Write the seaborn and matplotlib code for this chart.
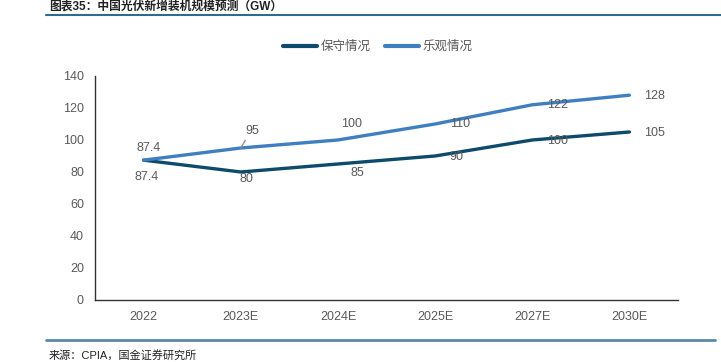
import matplotlib
matplotlib.use('Agg')
import matplotlib.pyplot as plt
import pandas as pd
import seaborn as sns

# dados
anos = ['2022', '2023E', '2024E', '2025E', '2027E', '2030E']
conservador = [87.4, 80, 85, 90, 100, 105]
otimista = [87.4, 95, 100, 110, 122, 128]
series = ['保守情况', '乐观情况']
cores = ['#0d4a6b', '#3f7fc0']

df = pd.DataFrame({
    'ano': anos * 2,
    'valor': conservador + otimista,
    'cenario': [series[0]] * len(anos) + [series[1]] * len(anos),
})
df['pos'] = list(range(len(anos))) * 2

sns.set_theme(style='white')
plt.rcParams['font.family'] = ['Liberation Sans', 'Noto Sans CJK SC', 'DejaVu Sans']

fig = plt.figure(figsize=(7.21, 3.62), dpi=100)
ax = fig.add_axes([0.1318, 0.1713, 0.8086, 0.6188])

sns.lineplot(data=df, x='pos', y='valor', hue='cenario', hue_order=series,
             palette=cores, linewidth=2.4, ax=ax, legend=False)

cinza = '#595959'
# offsets dos rótulos (pixels)
off_cons = [(3, -17), (6, -7), (19, -9), (21, -1), (25, -1), (25, -1)]
off_otim = [(5, 12), (12, 17), (14, 16), (25, 0), (25, 0), (25, -1)]
for i, v in enumerate(conservador):
    ax.annotate(f'{v:g}', (i, v), xytext=off_cons[i], textcoords='offset pixels',
                ha='center', va='center', fontsize=9, color=cinza)
for i, v in enumerate(otimista):
    props = None
    if i == 1:
        props = dict(arrowstyle='-', color='#8c8c8c', lw=0.9, shrinkA=0, shrinkB=0,
                     relpos=(0.1, 0.0))
    ax.annotate(f'{v:g}', (i, v), xytext=off_otim[i], textcoords='offset pixels',
                ha='center', va='center', fontsize=9, color=cinza, arrowprops=props)

ax.set_xlim(-0.5, len(anos) - 0.5)
ax.set_ylim(0, 140)
ax.set_yticks(range(0, 141, 20))
ax.set_xticks([i - 0.5 for i in range(len(anos) + 1)], minor=False)
ax.set_xticklabels([])
ax.set_xticks(range(len(anos)), minor=True)
ax.set_xticklabels(anos, minor=True)
ax.tick_params(axis='x', which='major', direction='in', length=4, width=1, color='#333333')
ax.tick_params(axis='x', which='minor', length=0, labelsize=9, labelcolor=cinza, pad=8)
ax.tick_params(axis='y', direction='in', length=4, width=1, color='#333333',
               labelsize=9, labelcolor=cinza, pad=8)
ax.set_xlabel('')
ax.set_ylabel('')
for s in ['top', 'right']:
    ax.spines[s].set_visible(False)
for s in ['left', 'bottom']:
    ax.spines[s].set_color('#333333')
    ax.spines[s].set_linewidth(1)

handles = [plt.Line2D([], [], color=c, lw=3) for c in cores]
fig.legend(handles, series, loc='center', bbox_to_anchor=(0.524, 0.870), ncol=2,
           frameon=False, fontsize=9, labelcolor=cinza, handlelength=2.7,
           handletextpad=0.3, columnspacing=1.2)

# título e linhas de moldura
fig.text(0.068, 1 - 13 / 362, '图表35：中国光伏新增装机规模预测（GW）', ha='left', va='bottom',
         fontsize=8.5, fontweight='bold', color='#222222')
fig.add_artist(plt.Line2D([0.064, 1.0], [1 - 15 / 362] * 2, color='#2f6a8f', lw=1.5))
fig.add_artist(plt.Line2D([0.064, 0.992], [1 - 340 / 362] * 2, color='#5a8aa8', lw=2))
fig.text(0.068, 1 - 355 / 362, '来源：CPIA，国金证券研究所', ha='left', va='center',
         fontsize=8, color='#222222')

fig.savefig('out.png', dpi=100)
